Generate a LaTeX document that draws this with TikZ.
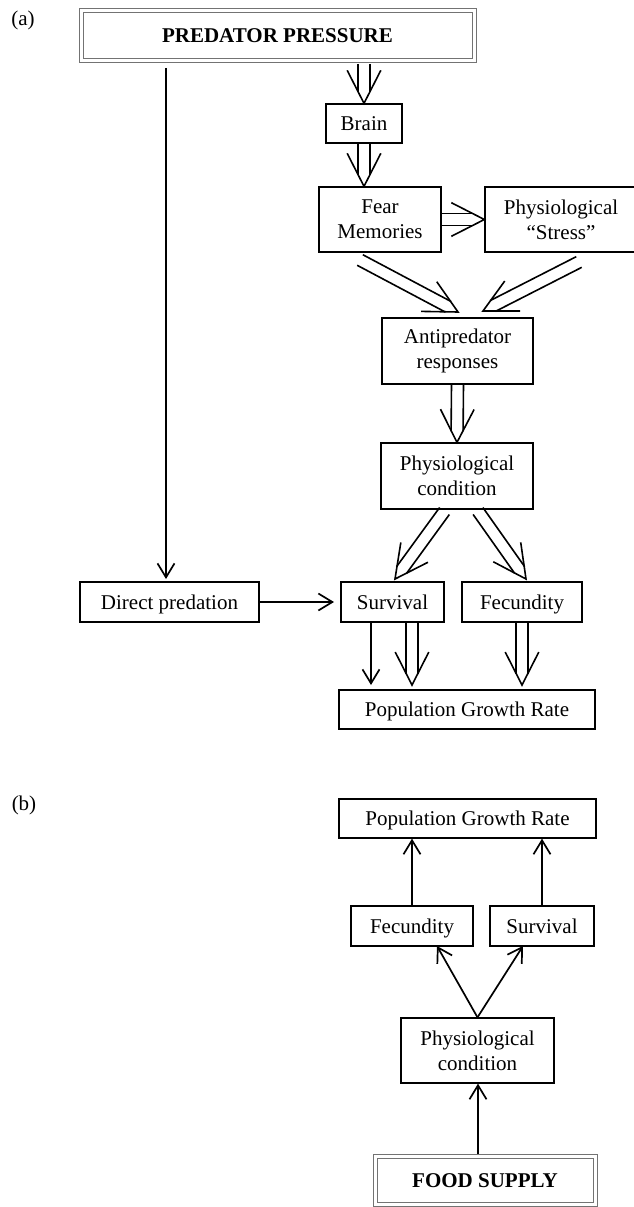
\documentclass[tikz,border=0pt]{standalone}
\usepackage{fontspec}
\setmainfont{Liberation Serif}
\usetikzlibrary{arrows.meta,calc}

\tikzset{
  txt/.style={font=\fontsize{21}{25}\selectfont},
  box/.style={txt, draw, line width=1.3pt, inner sep=0pt, align=center},
  one/.style={text height=14pt, text depth=0pt},
  bigbox/.style={box, one, draw=black!55, double, line width=1pt, double distance=3pt, font=\fontsize{21}{25}\selectfont\bfseries},
  arr/.style={line width=1.7pt, -{Straight Barb[length=14pt,width=17pt]}},
  barb/.style={line width=1.6pt, line join=miter},
}
\newcommand{\twinarrow}[2]{%
  \coordinate (twE) at ($(#2)!11pt!(#1)$);
  \draw[barb] ($(#1)!6pt!90:(#2)$) -- ($(twE)!6pt!90:(#2)$);
  \draw[barb] ($(#1)!6pt!-90:(#2)$) -- ($(twE)!6pt!-90:(#2)$);
  \draw[barb] ($(#2)!37pt!27:(#1)$) -- (#2) -- ($(#2)!37pt!-27:(#1)$);
}

\begin{document}
\begin{tikzpicture}[x=1pt, y=-1pt]
    \useasboundingbox (0,0) rectangle (634,1207);
    % (a)
    \node[txt] (lblA) at (23,20) {(a)};
    \node[bigbox, minimum width=393pt, minimum height=50pt] (pp) at (277.5,36) {PREDATOR PRESSURE};
    \node[box, one, minimum width=76pt, minimum height=39pt] (brain) at (364,123.5) {Brain};
    \node[box, minimum width=122pt, minimum height=65pt] (fear) at (380,219.5) {Fear\\Memories};
    \node[box, minimum width=152pt, minimum height=65pt] (stress) at (561,219.5) {Physiological\\``Stress''};
    \node[box, minimum width=151pt, minimum height=66pt] (anti) at (457.5,351) {Antipredator\\responses};
    \node[box, minimum width=152pt, minimum height=66pt] (cond) at (457,476) {Physiological\\condition};
    \node[box, one, minimum width=179pt, minimum height=40pt] (direct) at (169.5,602) {Direct predation};
    \node[box, one, minimum width=103pt, minimum height=40pt] (surv) at (392.5,602) {Survival};
    \node[box, one, minimum width=120pt, minimum height=40pt] (fec) at (522,602) {Fecundity};
    \node[box, one, minimum width=256pt, minimum height=39pt] (pgr) at (467,709.5) {Population Growth Rate};

    \coordinate (ppB) at (364,64);
    \coordinate (fearT) at (brain.south |- fear.north);
    \coordinate (fearO) at (360,260);
    \coordinate (antiL) at (458,312);
    \coordinate (stressO) at (579,262);
    \coordinate (antiR) at (483,311);
    \coordinate (condL) at (444.5,511);
    \coordinate (survT) at (395,579);
    \coordinate (condR) at (478,511);
    \coordinate (fecT) at (526,579);
    \coordinate (ppL) at (166,68);
    \coordinate (directT) at (166,579);
    \coordinate (survW) at (334,602);
    \coordinate (survA) at (371,622);
    \coordinate (pgrA) at (371,685);
    \coordinate (survB) at (412,622);
    \coordinate (pgrB) at (412,685);
    \coordinate (fecB) at (522,622);
    \coordinate (pgrC) at (522,685);

    \twinarrow{ppB}{brain.north}
    \twinarrow{brain.south}{fearT}
    \twinarrow{fear.east}{stress.west}
    \twinarrow{fearO}{antiL}
    \twinarrow{stressO}{antiR}
    \twinarrow{anti.south}{cond.north}
    \twinarrow{condL}{survT}
    \twinarrow{condR}{fecT}
    \draw[arr] (ppL) -- (directT);
    \draw[arr] (direct.east) -- (survW);
    \draw[arr] (survA) -- (pgrA);
    \twinarrow{survB}{pgrB}
    \twinarrow{fecB}{pgrC}

    % (b)
    \node[txt] (lblB) at (24,805) {(b)};
    \node[box, one, minimum width=257pt, minimum height=39pt] (pgrb) at (467.5,818.5) {Population Growth Rate};
    \node[box, one, minimum width=122pt, minimum height=40pt] (fecb) at (412,926) {Fecundity};
    \node[box, one, minimum width=104pt, minimum height=40pt] (survb) at (542,926) {Survival};
    \node[box, minimum width=153pt, minimum height=65pt] (condb) at (477.5,1050.5) {Physiological\\condition};
    \node[bigbox, minimum width=220pt, minimum height=48pt] (food) at (485,1180) {FOOD SUPPLY};

    \coordinate (fecbB) at (437,946);
    \coordinate (survbB) at (523,946);
    \coordinate (foodT) at (478,1154);

    \draw[arr] (fecb.north) -- (fecb.north |- pgrb.south);
    \draw[arr] (survb.north) -- (survb.north |- pgrb.south);
    \draw[arr] (condb.north) -- (fecbB);
    \draw[arr] (condb.north) -- (survbB);
    \draw[arr] (foodT) -- (foodT |- condb.south);
\end{tikzpicture}
\end{document}
